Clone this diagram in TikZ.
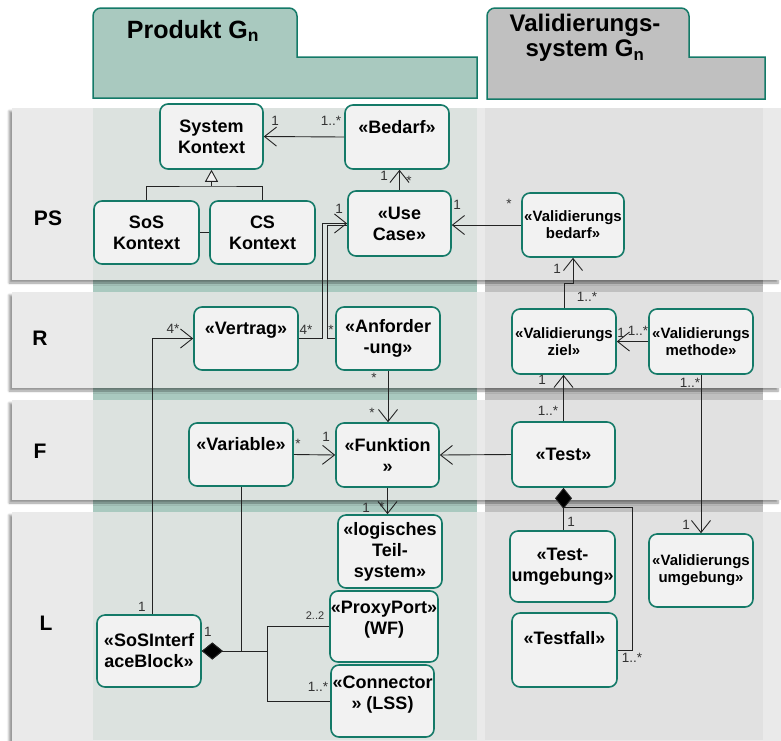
\documentclass[tikz,border=0pt]{standalone}
\usepackage{fontspec}
\setmainfont{Liberation Sans}
\usetikzlibrary{arrows.meta,shadows.blur}

\definecolor{umlteal}{RGB}{20,122,104}
\definecolor{prodfill}{RGB}{169,201,191}
\definecolor{valfill}{RGB}{192,192,192}
\definecolor{bandfill}{RGB}{234,234,234}
\definecolor{bandprod}{RGB}{220,226,223}
\definecolor{bandval}{RGB}{225,225,225}
\definecolor{blockfill}{RGB}{242,242,242}
\definecolor{linegray}{RGB}{35,35,35}

\begin{document}
\begin{tikzpicture}[x=1pt,y=-1pt,
  block/.style={draw=umlteal,line width=1.6pt,rounded corners=8pt,fill=blockfill,align=center,inner sep=1pt,font=\fontsize{18}{21}\selectfont\bfseries},
  valblock/.style={block,font=\fontsize{15}{17}\selectfont\bfseries},
  mult/.style={inner sep=0pt,text=black!80,font=\fontsize{13.5}{15}\selectfont},
  link/.style={draw=linegray,line width=0.9pt},
  assoc/.style={link,-{Straight Barb[length=12pt,width=19pt]}},
  comp/.style={link,{Diamond[length=21pt,width=17pt,fill=black]}-},
  gen/.style={link,-{Triangle[length=12pt,width=13pt,fill=blockfill]}},
  lane/.style={font=\fontsize{21}{24}\selectfont\bfseries},
  band/.style={fill=bandfill,blur shadow={shadow xshift=-3pt,shadow yshift=-3pt,shadow blur steps=6}}
]
\useasboundingbox (0,0) rectangle (781,740);

% columns behind the layers
\fill[prodfill] (93,108) rectangle (477,740);
\fill[valfill] (485,108) rectangle (763,740);

% layers PS, R, F, L
\path[band] (12,108) rectangle (781,280);
\path[band] (12,292) rectangle (781,388);
\path[band] (12,400) rectangle (781,500);
\path[band] (12,512) rectangle (781,760);
\fill[bandprod] (93,108) rectangle (477,280);
\fill[bandprod] (93,292) rectangle (477,388);
\fill[bandprod] (93,400) rectangle (477,500);
\fill[bandprod] (93,512) rectangle (477,740);
\fill[bandval] (485,108) rectangle (763,280);
\fill[bandval] (485,292) rectangle (763,388);
\fill[bandval] (485,400) rectangle (763,500);
\fill[bandval] (485,512) rectangle (763,740);

% package tabs
\draw[umlteal,line width=1.5pt,fill=prodfill] (93,98) -- (93,30) [rounded corners=8pt] -- (93,8) -- (297,8) -- (297,30) [sharp corners] -- (297,57) -- (477,57) -- (477,98) -- cycle;
\draw[umlteal,line width=1.5pt,fill=valfill] (487,99) -- (487,30) [rounded corners=8pt] -- (487,8) -- (689,8) -- (689,30) [sharp corners] -- (689,57) -- (765,57) -- (765,99) -- cycle;
\node[font=\fontsize{25}{26}\selectfont\bfseries] (prodtitle) at (193,31) {Produkt G\textsubscript{n}};
\node[align=center,font=\fontsize{24}{25}\selectfont\bfseries] (valtitle) at (585,38) {Validierungs-\\system G\textsubscript{n}};

\node[lane] (lanePS) at (48,218) {PS};
\node[lane] (laneR) at (40,338) {R};
\node[lane] (laneF) at (40,451) {F};
\node[lane] (laneL) at (46,623) {L};

% blocks
\node[block,minimum width=103pt,minimum height=65pt] (syskontext) at (211.5,136.5) {System\\Kontext};
\node[block,minimum width=104pt,minimum height=64pt] (bedarf) at (397,137) {«Bedarf»\\\mbox{}};
\node[block,minimum width=105pt,minimum height=63pt] (soskontext) at (146.5,232.5) {SoS\\Kontext};
\node[block,minimum width=105pt,minimum height=63pt] (cskontext) at (262.5,232.5) {CS\\Kontext};
\node[block,minimum width=103pt,minimum height=65pt] (usecase) at (399.5,223.5) {«Use\\Case»};
\node[valblock,minimum width=102pt,minimum height=64pt] (valbedarf) at (573,225) {«Validierungs\\bedarf»};
\node[valblock,minimum width=104pt,minimum height=65pt] (valziel) at (564,341.5) {«Validierungs\\ziel»};
\node[valblock,minimum width=104pt,minimum height=65pt] (valmethode) at (701,341.5) {«Validierungs\\methode»};
\node[block,minimum width=104pt,minimum height=63pt] (vertrag) at (246,338.5) {«Vertrag»\\\mbox{}};
\node[block,minimum width=104pt,minimum height=63pt] (anforderung) at (388,338.5) {«Anforder\\-ung»};
\node[block,minimum width=104pt,minimum height=63pt] (variable) at (241,454.5) {«Variable»\\\mbox{}};
\node[block,minimum width=103pt,minimum height=64pt] (funktion) at (387.5,455) {«Funktion\\»};
\node[block,minimum width=103pt,minimum height=65pt] (test) at (563.5,454.5) {«Test»};
\node[block,minimum width=105pt,minimum height=71pt] (testumgebung) at (562.5,566.5) {«Test-\\umgebung»};
\node[valblock,minimum width=104pt,minimum height=73pt] (valumgebung) at (701,570.5) {«Validierungs\\umgebung»};
\node[block,minimum width=105pt,minimum height=74pt] (testfall) at (564.5,650) {«Testfall»\\[4pt]\mbox{}};
\node[block,minimum width=104pt,minimum height=73pt] (teilsystem) at (390,551.5) {«logisches\\Teil-\\system»};
\node[block,minimum width=104pt,minimum height=71pt] (proxyport) at (384,626.5) {«ProxyPort»\\(WF)\\[-4pt]\mbox{}};
\node[block,minimum width=103pt,minimum height=72pt] (connector) at (382.5,701) {«Connector\\» (LSS)\\[-4pt]\mbox{}};
\node[block,minimum width=104pt,minimum height=72pt] (sosinterface) at (149,651) {«SoSInterf\\aceBlock»};

% connectors
\coordinate (genjoin) at (211.5,186);
\draw[assoc] (bedarf.west) -- (syskontext.east);
\draw[gen] (genjoin) -- (syskontext.south);
\draw[link] (soskontext.north) |- (genjoin) -| (cskontext.north);
\draw[link] (soskontext.east) -- (cskontext.west);
\draw[assoc] (usecase.north) -- (usecase.north |- bedarf.south);
\draw[assoc] (valbedarf.west) -- (valbedarf.west -| usecase.east);
\draw[assoc] (valziel.north) -- ++(0,-25) -| (valbedarf.south);
\draw[assoc] (valmethode.west) -- (valziel.east);
\draw[assoc] (test.north) -- (test.north |- valziel.south);
\draw[assoc] (valmethode.south) -- (valumgebung.north);
\draw[assoc] (test.west) -- (funktion.east);
\draw[comp] (test.south) -- (test.south |- testumgebung.north);
\path (test.south) ++(0,20) coordinate (testfork);
\draw[link] (testfork) -- ++(69,0) |- (testfall.east);
\draw[assoc] (anforderung.south) -- (anforderung.south |- funktion.north);
\draw[assoc] (variable.east) -- (funktion.west);
\draw[assoc] (funktion.south) -- (funktion.south |- teilsystem.north);
\draw[assoc] (vertrag.east) -- ++(24,0) |- (usecase.west);
\draw[link] (anforderung.west) -- ++(-8,0) |- ([yshift=-2pt]usecase.west);
\draw[assoc] ([xshift=3pt]sosinterface.north) |- (vertrag.west);
\draw[comp] (sosinterface.east) -| (variable.south);
\draw[comp] (sosinterface.east) -- ++(66,0) coordinate (portfork);
\draw[link] (portfork) |- (proxyport.west);
\draw[link] (portfork) |- (connector.west);

% multiplicities
\node[mult] (m1) at (275,121) {1};
\node[mult] (m2) at (331,121) {1..*};
\node[mult] (m3) at (384,176) {1};
\node[mult] (m4) at (409,181) {*};
\node[mult] (m5) at (457,205) {1};
\node[mult] (m6) at (509,204) {*};
\node[mult] (m7) at (557,269) {1};
\node[mult] (m8) at (587,297) {1..*};
\node[mult] (m9) at (621,333) {1};
\node[mult] (m10) at (638,331) {1..*};
\node[mult] (m11) at (542,380) {1};
\node[mult] (m12) at (548,411) {1..*};
\node[mult] (m13) at (690,383) {1..*};
\node[mult] (m14) at (686,525) {1};
\node[mult] (m15) at (571,522) {1};
\node[mult] (m16) at (632,658) {1..*};
\node[mult] (m17) at (374,378) {*};
\node[mult] (m18) at (372,413) {*};
\node[mult] (m19) at (298,444) {*};
\node[mult] (m20) at (326,437) {1};
\node[mult] (m21) at (366,508) {1};
\node[mult] (m22) at (382,507) {*};
\node[mult] (m23) at (306,330) {4*};
\node[mult] (m24) at (331,330) {*};
\node[mult] (m25) at (339,209) {1};
\node[mult] (m26) at (173,329) {4*};
\node[mult] (m27) at (142,607) {1};
\node[mult] (m28) at (208,632) {1};
\node[mult,font=\fontsize{11}{13}\selectfont] (m29) at (315,616) {2..2};
\node[mult] (m30) at (318,687) {1..*};

\end{tikzpicture}
\end{document}
